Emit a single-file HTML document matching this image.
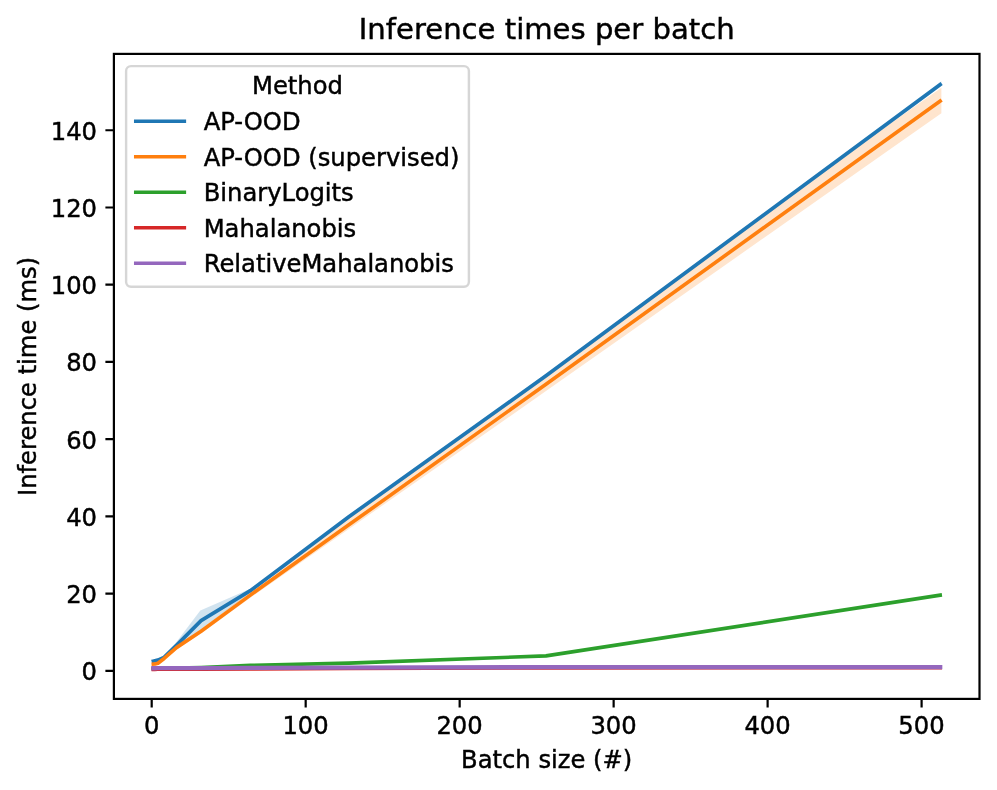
<!DOCTYPE html>
<html lang="en"><head><meta charset="utf-8"><title>Inference times per batch</title>
<style>html,body{margin:0;padding:0;background:#fff}svg{display:block}text{font-family:"DejaVu Sans","Liberation Sans",sans-serif;fill:#000;stroke:#000;stroke-width:0.45px}</style></head><body>
<svg width="997" height="790" viewBox="0 0 997 790">
<rect width="997" height="790" fill="#fff"/>
<g opacity="0.2"><polygon points="153.34,660.57 154.88,660.18 157.96,659.53 164.12,656.51 176.44,643.97 201.07,611.53 250.35,590.11 348.89,515.97 545.99,375.05 940.18,83.73 940.18,85.28 545.99,376.59 348.89,517.52 250.35,591.26 201.07,627.56 176.44,646.67 164.12,658.06 157.96,660.68 154.88,661.34 153.34,661.73" fill="#1f77b4" stroke="#1f77b4" stroke-width="2.4" stroke-linejoin="miter"/></g>
<g opacity="0.2"><polygon points="153.34,663.77 154.88,663.66 157.96,662.81 164.12,658.06 176.44,647.05 201.07,630.41 250.35,593.19 348.89,519.45 545.99,376.48 875.51,135.55 940.18,90.03 940.18,112.58 875.51,157.95 545.99,389.60 348.89,527.44 250.35,596.28 201.07,631.96 176.44,648.21 164.12,658.83 157.96,663.58 154.88,664.43 153.34,664.55" fill="#ff7f0e" stroke="#ff7f0e" stroke-width="2.4" stroke-linejoin="miter"/></g>
<polyline points="153.34,661.15 154.88,660.76 157.96,660.11 164.12,657.29 176.44,645.32 201.07,620.61 250.35,590.68 348.89,516.75 545.99,375.82 940.18,84.51" fill="none" stroke="#1f77b4" stroke-width="3.64" stroke-linecap="square" stroke-linejoin="round"/>
<polyline points="153.34,664.16 154.88,664.04 157.96,663.19 164.12,658.44 176.44,647.63 201.07,631.19 250.35,595.12 348.89,524.85 545.99,384.20 940.18,101.07" fill="none" stroke="#ff7f0e" stroke-width="3.64" stroke-linecap="square" stroke-linejoin="round"/>
<polyline points="153.34,668.68 154.88,668.64 157.96,668.60 164.12,668.48 176.44,668.17 201.07,667.52 250.35,665.39 348.89,663.08 545.99,655.90 940.18,595.20" fill="none" stroke="#2ca02c" stroke-width="3.64" stroke-linecap="square" stroke-linejoin="round"/>
<polyline points="153.34,669.33 154.88,669.33 157.96,669.29 164.12,669.29 176.44,669.26 201.07,669.18 250.35,668.87 348.89,668.48 545.99,667.87 940.18,667.71" fill="none" stroke="#d62728" stroke-width="3.64" stroke-linecap="square" stroke-linejoin="round"/>
<polyline points="153.34,668.25 154.88,668.25 157.96,668.21 164.12,668.21 176.44,668.17 201.07,668.10 250.35,667.87 348.89,667.56 545.99,667.17 940.18,667.17" fill="none" stroke="#9467bd" stroke-width="4.3" stroke-linecap="square" stroke-linejoin="round"/>
<path d="M151.70 698.9 v8.5 M305.68 698.9 v8.5 M459.66 698.9 v8.5 M613.64 698.9 v8.5 M767.62 698.9 v8.5 M921.60 698.9 v8.5 M113.9 670.80 h-8.5 M113.9 593.58 h-8.5 M113.9 516.36 h-8.5 M113.9 439.14 h-8.5 M113.9 361.92 h-8.5 M113.9 284.70 h-8.5 M113.9 207.48 h-8.5 M113.9 130.26 h-8.5" stroke="#000" stroke-width="2.2" fill="none"/>
<rect x="113.9" y="53.9" width="865.6" height="645.0" fill="none" stroke="#000" stroke-width="2.2" stroke-linejoin="miter"/>
<text x="151.60" y="734.4" font-size="24.24" text-anchor="middle">0</text>
<text x="305.58" y="734.4" font-size="24.24" text-anchor="middle">100</text>
<text x="459.56" y="734.4" font-size="24.24" text-anchor="middle">200</text>
<text x="613.54" y="734.4" font-size="24.24" text-anchor="middle">300</text>
<text x="767.52" y="734.4" font-size="24.24" text-anchor="middle">400</text>
<text x="921.50" y="734.4" font-size="24.24" text-anchor="middle">500</text>
<text x="97.0" y="680.20" font-size="24.24" text-anchor="end">0</text>
<text x="97.0" y="602.98" font-size="24.24" text-anchor="end">20</text>
<text x="97.0" y="525.76" font-size="24.24" text-anchor="end">40</text>
<text x="97.0" y="448.54" font-size="24.24" text-anchor="end">60</text>
<text x="97.0" y="371.32" font-size="24.24" text-anchor="end">80</text>
<text x="97.0" y="294.10" font-size="24.24" text-anchor="end">100</text>
<text x="97.0" y="216.88" font-size="24.24" text-anchor="end">120</text>
<text x="97.0" y="139.66" font-size="24.24" text-anchor="end">140</text>
<text x="546.70" y="767.7" font-size="24.24" text-anchor="middle">Batch size (#)</text>
<text transform="translate(36.4 376.40) rotate(-90)" font-size="24.24" text-anchor="middle">Inference time (ms)</text>
<text x="546.70" y="39.2" font-size="29.1" text-anchor="middle">Inference times per batch</text>
<rect x="126.1" y="66.1" width="342.8" height="220.6" rx="4.85" ry="4.85" fill="#fff" fill-opacity="0.8" stroke="#ccc" stroke-opacity="0.8" stroke-width="2.42"/>
<text x="297.5" y="94.0" font-size="24.24" text-anchor="middle">Method</text>
<line x1="135.8" y1="121.20" x2="184.3" y2="121.20" stroke="#1f77b4" stroke-width="3.64" stroke-linecap="square"/>
<text x="203.7" y="130.10" font-size="24.24">AP-OOD</text>
<line x1="135.8" y1="156.70" x2="184.3" y2="156.70" stroke="#ff7f0e" stroke-width="3.64" stroke-linecap="square"/>
<text x="203.7" y="165.60" font-size="24.24">AP-OOD (supervised)</text>
<line x1="135.8" y1="192.20" x2="184.3" y2="192.20" stroke="#2ca02c" stroke-width="3.64" stroke-linecap="square"/>
<text x="203.7" y="201.10" font-size="24.24">BinaryLogits</text>
<line x1="135.8" y1="227.70" x2="184.3" y2="227.70" stroke="#d62728" stroke-width="3.64" stroke-linecap="square"/>
<text x="203.7" y="236.60" font-size="24.24">Mahalanobis</text>
<line x1="135.8" y1="263.20" x2="184.3" y2="263.20" stroke="#9467bd" stroke-width="3.64" stroke-linecap="square"/>
<text x="203.7" y="272.10" font-size="24.24">RelativeMahalanobis</text>
</svg></body></html>
